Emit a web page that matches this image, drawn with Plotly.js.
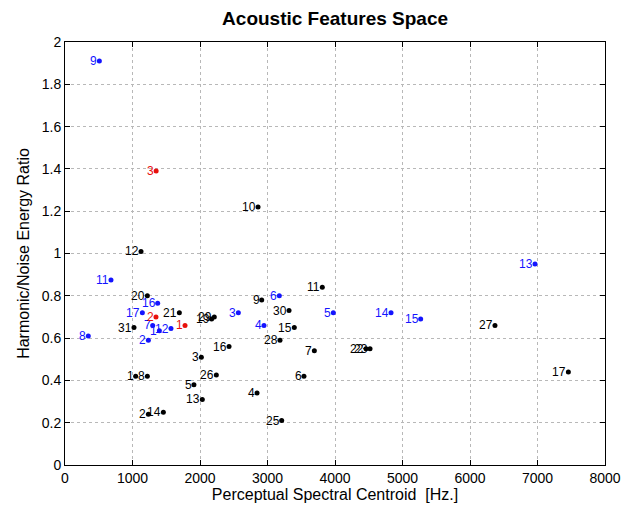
<!DOCTYPE html>
<html>
<head>
<meta charset="utf-8">
<script src="https://cdn.plot.ly/plotly-3.0.1.min.js"></script>
<style>html,body{margin:0;padding:0;background:#fff;}#chart{width:624px;height:509px;}</style>
</head>
<body>
<div id="chart"></div>
<script>
// Black series
const blackLabels = ["1","2","3","4","5","6","7","8","9","10","11","12","13","14","15","16","17","19","20","21","22","23","25","26","27","28","29","30","31"];
const blackX = [1047,1235,2020,2845,1910,3540,3694,1220,2914,2860,3812,1126,2034,1457,3397,2430,7457,2172,1220,1694,4459,4519,3210,2242,6370,3185,2212,3319,1022];
const blackY = [0.42,0.24,0.51,0.34,0.38,0.42,0.54,0.42,0.78,1.22,0.84,1.01,0.31,0.25,0.65,0.56,0.44,0.69,0.80,0.72,0.55,0.55,0.21,0.425,0.66,0.59,0.70,0.73,0.65];
// Blue series
const blueLabels = ["1","2","3","4","5","6","7","8","9","11","12","13","14","15","16","17"];
const blueX = [1398,1235,2568,2948,3975,3175,1299,345,509,681,1570,6963,4830,5269,1373,1146];
const blueY = [0.635,0.59,0.72,0.66,0.72,0.80,0.66,0.61,1.91,0.875,0.645,0.95,0.72,0.69,0.765,0.72];
// Red series
const redLabels = ["1","2","3"];
const redX = [1778,1348,1350];
const redY = [0.66,0.70,1.39];

const xTicks = [0,1000,2000,3000,4000,5000,6000,7000,8000];
const yTicks = [0,0.2,0.4,0.6,0.8,1,1.2,1.4,1.6,1.8,2];
const yTickText = ["0","0.2","0.4","0.6","0.8","1","1.2","1.4","1.6","1.8","2"];

const FONT = 'Liberation Sans, Arial, sans-serif';
const BLACK = '#000000', BLUE = '#1414ff', RED = '#e8100c';

function series(x, y, color) {
  return {
    type: 'scatter', mode: 'markers',
    x: x, y: y,
    marker: {size: 5, color: color},
    cliponaxis: false,
    hoverinfo: 'none'
  };
}
function labels(x, y, txt, color) {
  return x.map((xv, i) => ({
    x: xv, y: y[i], text: txt[i], xref: 'x', yref: 'y',
    showarrow: false, xanchor: 'right', yanchor: 'middle', xshift: 0,
    font: {family: FONT, size: 12, color: color}
  }));
}

const data = [
  series(blackX, blackY, BLACK),
  series(blueX, blueY, BLUE),
  series(redX, redY, RED)
];
const annotations = [].concat(
  labels(blackX, blackY, blackLabels, BLACK),
  labels(blueX, blueY, blueLabels, BLUE),
  labels(redX, redY, redLabels, RED)
);

const axisCommon = {
  showline: true, linecolor: '#000', linewidth: 1, mirror: 'ticks',
  ticks: 'inside', ticklen: 5, tickcolor: '#000',
  showgrid: true, gridcolor: '#b8b8b8', griddash: 'dot', gridwidth: 1,
  zeroline: false,
  tickfont: {family: FONT, size: 14, color: '#000'}
};

const layout = {
  width: 624, height: 509,
  margin: {l: 65, r: 19, t: 42, b: 44},
  paper_bgcolor: '#fff', plot_bgcolor: '#fff',
  showlegend: false,
  annotations: annotations,
  title: {text: '<b>Acoustic Features Space</b>', x: 0.537, xanchor: 'center', y: 0.963, yanchor: 'middle',
          font: {family: FONT, size: 19, color: '#000'}},
  xaxis: Object.assign({}, axisCommon, {
    range: [0, 8000], tickvals: xTicks, ticktext: xTicks.map(String),
    title: {text: 'Perceptual Spectral Centroid  [Hz.]', standoff: 2,
            font: {family: FONT, size: 16, color: '#000'}}
  }),
  yaxis: Object.assign({}, axisCommon, {
    range: [0, 2], tickvals: yTicks, ticktext: yTickText,
    title: {text: 'Harmonic/Noise Energy Ratio', standoff: 8,
            font: {family: FONT, size: 16, color: '#000'}}
  })
};

Plotly.newPlot('chart', data, layout, {displayModeBar: false, staticPlot: true});
</script>
</body>
</html>
